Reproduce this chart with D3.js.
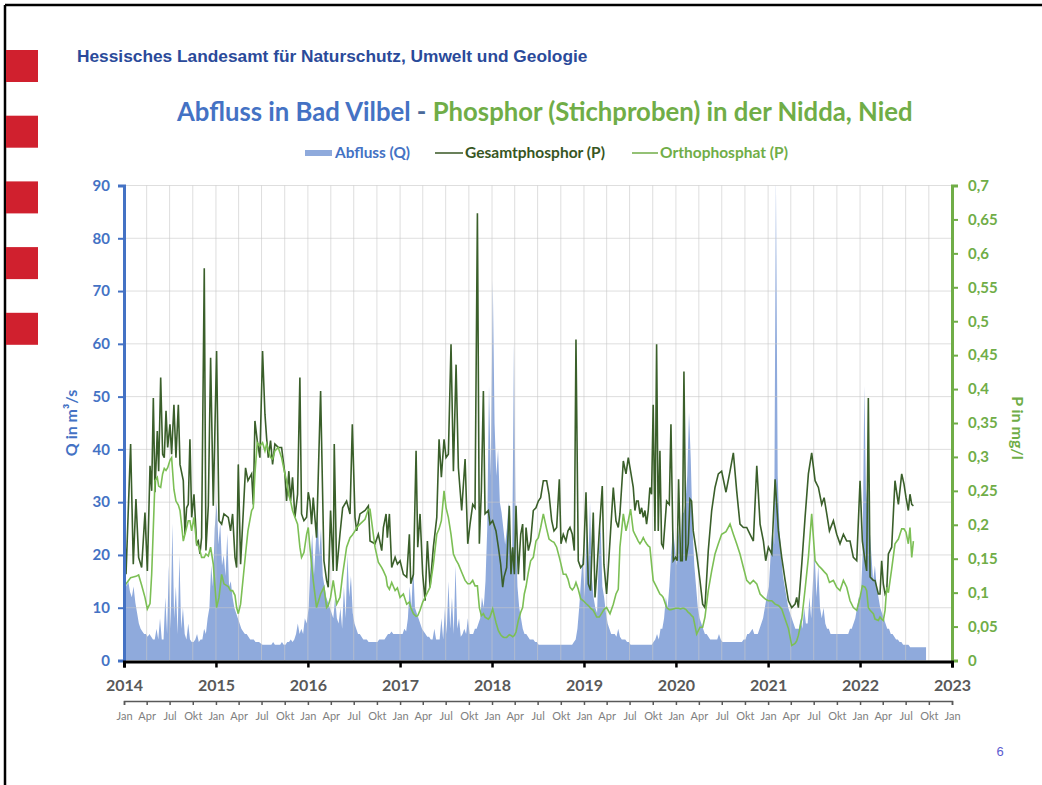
<!DOCTYPE html>
<html><head><meta charset="utf-8">
<script src="https://cdn.jsdelivr.net/npm/d3@7"></script>
<style>body{margin:0;background:#fff;} svg{display:block;}</style>
</head><body>
<svg id="c" width="1042" height="785"></svg>
<script>
// ---------- DATA ----------
// Abfluss Q (m³/s), weekly readings per year (week i = Jan 4 + 7*i)
const q2014 = [16,14,15,13, 12,14,11,9, 7,6,5.5,5,5, 4.5,5,4.5,4, 4,6,4,8,4, 4,12,5,18, 6,26,8,14, 5,20,6,10,5, 4,7,4,3.5, 3.5,4,5,3.5,4, 4,6,5,8, 10,18,14,25];
const q2015 = [30,22,26,18, 20,16,24,14, 15,12,10,9,8, 7,6,5.5,5, 5,4.5,4,4,4, 3.5,3.5,3.5,3.2, 3,3,3,3, 3,3,3.5,3,3, 3,3,3.5,3, 3,3.5,3.5,4,3.5, 4,5,7,5, 6,5,8,7];
const q2016 = [10,18,24,16, 22,28,20,25, 16,14,12,11,10, 9,8,12,8, 7,10,6,14,8, 20,12,16,9, 7,6,5,5, 4.5,4,4,4,3.5, 3.5,3.5,3.5,3.5, 3.5,4,4,4,4, 4.5,5,5,5.5, 5,5,5,5];
const q2017 = [5,5,6,5.5, 8,14,10,18, 10,9,8,7,6, 5.5,5,4.5,4.5, 4,4,6,4,4, 4,8,4,10, 5,15,6,12, 5,18,6,8,4.5, 5,6,5,8, 5,5,5,6,6, 7,8,12,10, 15,25,52,35];
const q2018 = [72,45,35,40, 30,28,25,22, 25,30,22,20,60, 25,14,10,8, 6,5,5,4.5,4, 4,4,3.5,3.5, 3,3,3,3, 3,3,3,3,3, 3,3,3,3, 3,3,3,3,3, 3,3,3.5,4, 6,10,15,20];
const q2019 = [12,25,18,30, 16,12,10,9, 20,26,14,12,9, 7,6,5,5, 5,4.5,6,4.5,4, 4,4,3.5,3.5, 3,3,3,3, 3,3,3,3,3, 3,3,3,3, 3.5,4,5,4,6, 6,8,12,10, 14,20,25,22];
const q2020 = [18,25,20,28, 28,30,35,47, 38,25,18,14,10, 8,7,6,5, 5,4.5,4,4,4, 4,4,5,4, 3.5,3.5,3.5,3.5, 3.5,3.5,3.5,3.5,3.5, 3.5,3.5,3.5,4, 4,5,5,5.5,6, 5,5,5,6, 7,8,10,12];
const q2021 = [14,20,25,22, 92,35,25,20, 16,14,12,10,9, 8,7,6,6, 6,8,6,10,7, 7,12,8,15, 20,12,18,10, 8,10,7,6,6, 5,5,5,5, 5,5,5,5,5, 5,5,6,6, 7,8,10,12];
const q2022 = [12,20,52,30, 35,25,20,15, 18,14,12,10,9, 8,7,6,6, 5,5,4.5,4,4, 3.5,3.5,3,3, 3,3,2.5,2.5, 2.5,2.5,2.5,2.5,2.5, 2.5,2.5,2.5];
const qYears = [2014,2015,2016,2017,2018,2019,2020,2021,2022];
const qSeries = [q2014,q2015,q2016,q2017,q2018,q2019,q2020,q2021,q2022];

// Phosphor samples (decimal years), Gesamtphosphor and Orthophosphat (mg/l)
const pDates = [2014.000,2014.022,2014.072,2014.101,2014.130,2014.159,2014.192,2014.228,2014.254,2014.283,2014.301,2014.319,2014.337,2014.362,2014.377,2014.399,2014.420,2014.438,2014.457,2014.475,2014.500,2014.518,2014.543,2014.565,2014.591,2014.609,2014.645,2014.663,2014.681,2014.699,2014.717,2014.736,2014.761,2014.790,2014.808,2014.826,2014.844,2014.873,2014.891,2014.917,2014.942,2014.971,2015.007,2015.033,2015.062,2015.087,2015.134,2015.159,2015.181,2015.207,2015.225,2015.243,2015.268,2015.322,2015.348,2015.388,2015.406,2015.424,2015.449,2015.478,2015.507,2015.533,2015.551,2015.569,2015.594,2015.616,2015.641,2015.677,2015.714,2015.750,2015.768,2015.793,2015.812,2015.833,2015.859,2015.888,2015.913,2015.931,2015.957,2015.986,2016.004,2016.022,2016.040,2016.058,2016.094,2016.138,2016.174,2016.203,2016.221,2016.246,2016.275,2016.286,2016.312,2016.348,2016.377,2016.420,2016.457,2016.482,2016.511,2016.529,2016.565,2016.620,2016.656,
2016.674,2016.728,2016.764,2016.801,2016.819,2016.848,2016.862,2016.884,2016.909,2016.946,2016.971,2017.000,2017.036,2017.072,2017.101,2017.116,2017.145,2017.174,2017.192,2017.217,2017.246,2017.272,2017.297,2017.326,2017.362,2017.399,2017.424,2017.449,2017.478,2017.500,2017.525,2017.554,2017.580,2017.609,2017.634,2017.670,2017.707,2017.736,2017.761,2017.790,2017.815,2017.841,2017.862,2017.884,2017.906,2017.924,2017.960,2017.978,2018.007,2018.043,2018.069,2018.094,2018.116,2018.130,2018.159,2018.188,2018.206,2018.225,2018.243,2018.261,2018.286,2018.312,2018.333,2018.351,2018.370,2018.395,2018.420,2018.449,2018.478,2018.504,2018.529,2018.558,2018.594,2018.620,2018.649,2018.674,2018.703,2018.732,2018.750,2018.775,2018.804,2018.826,2018.848,2018.873,2018.895,2018.913,2018.938,2018.964,2018.993,2019.022,2019.047,2019.072,2019.101,2019.120,2019.138,2019.167,2019.199,2019.217,2019.246,2019.283,2019.319,2019.348,2019.373,
2019.391,2019.428,2019.457,2019.482,2019.507,2019.536,2019.554,2019.572,2019.590,2019.609,2019.627,2019.645,2019.663,2019.681,2019.699,2019.717,2019.735,2019.753,2019.772,2019.790,2019.808,2019.826,2019.844,2019.862,2019.899,2019.928,2019.946,2019.971,2019.996,2020.014,2020.029,2020.051,2020.069,2020.087,2020.109,2020.134,2020.152,2020.170,2020.188,2020.225,2020.261,2020.290,2020.315,2020.351,2020.388,2020.424,2020.460,2020.496,2020.543,2020.587,2020.623,2020.659,2020.695,2020.732,2020.768,2020.804,2020.840,2020.877,2020.913,2020.949,2020.974,2021.003,2021.040,2021.076,2021.112,2021.148,2021.185,2021.221,2021.257,2021.293,2021.311,2021.329,2021.366,2021.402,2021.438,2021.474,2021.511,2021.547,2021.583,2021.609,2021.638,2021.667,2021.710,2021.746,2021.782,2021.819,2021.855,2021.891,2021.927,2021.964,2022.000,2022.025,2022.054,2022.072,2022.090,2022.109,2022.145,2022.163,2022.199,2022.217,2022.235,2022.253,2022.272,2022.290,2022.308,2022.344,2022.380,2022.417,2022.453,2022.478,2022.500,2022.525,2022.543,2022.562,2022.580];

const totalP = [0.228,0.127,0.319,0.142,0.238,0.152,0.137,0.218,0.132,0.287,0.25,0.387,0.248,0.338,0.279,0.417,0.304,0.299,0.368,0.314,0.348,0.304,0.377,0.299,0.377,0.289,0.265,0.186,0.225,0.230,0.326,0.211,0.245,0.172,0.176,0.157,0.181,0.578,0.162,0.228,0.446,0.228,0.456,0.206,0.201,0.216,0.211,0.191,0.216,0.152,0.137,0.289,0.142,0.284,0.265,0.275,0.230,0.353,0.324,0.299,0.456,0.363,0.328,0.299,0.324,0.289,0.319,0.314,0.314,0.275,0.235,0.279,0.235,0.270,0.211,0.245,0.417,0.216,0.206,0.211,0.248,0.235,0.201,0.240,0.181,0.397,0.147,0.118,0.108,0.221,0.132,0.319,0.132,0.186,0.225,0.235,0.216,0.348,0.211,0.191,0.216,0.221,0.228,
0.176,0.172,0.186,0.162,0.196,0.216,0.181,0.216,0.137,0.152,0.142,0.147,0.127,0.123,0.186,0.113,0.127,0.309,0.167,0.216,0.127,0.088,0.176,0.108,0.167,0.211,0.326,0.270,0.326,0.299,0.304,0.466,0.279,0.436,0.284,0.221,0.297,0.172,0.201,0.230,0.225,0.659,0.172,0.250,0.397,0.216,0.221,0.201,0.206,0.191,0.167,0.142,0.108,0.123,0.137,0.228,0.127,0.167,0.127,0.228,0.127,0.186,0.201,0.118,0.196,0.162,0.176,0.221,0.225,0.235,0.240,0.265,0.265,0.245,0.206,0.191,0.196,0.267,0.172,0.186,0.176,0.191,0.196,0.186,0.162,0.473,0.147,0.137,0.142,0.248,0.113,0.103,0.218,0.093,0.127,0.191,0.257,0.142,0.098,0.176,0.255,0.206,0.196,
0.216,0.294,0.275,0.299,0.279,0.255,0.221,0.235,0.235,0.216,0.225,0.211,0.221,0.201,0.221,0.255,0.245,0.377,0.191,0.466,0.191,0.309,0.172,0.167,0.235,0.230,0.348,0.147,0.152,0.147,0.267,0.147,0.147,0.426,0.147,0.172,0.238,0.235,0.191,0.157,0.118,0.083,0.078,0.162,0.221,0.255,0.275,0.279,0.248,0.279,0.306,0.250,0.201,0.196,0.196,0.186,0.176,0.287,0.201,0.176,0.147,0.167,0.157,0.267,0.191,0.152,0.118,0.088,0.078,0.083,0.093,0.078,0.142,0.211,0.275,0.306,0.265,0.255,0.230,0.240,0.216,0.191,0.206,0.186,0.172,0.186,0.176,0.176,0.152,0.147,0.265,0.176,0.147,0.132,0.387,0.123,0.118,0.118,0.098,0.098,0.147,0.113,0.098,0.103,0.157,0.167,0.265,0.230,0.275,0.260,0.240,0.221,0.245,0.230,0.228];

const orthoP = [0.105,0.113,0.122,0.123,0.124,0.126,0.111,0.093,0.076,0.084,0.127,0.196,0.265,0.27,0.257,0.255,0.275,0.283,0.28,0.284,0.295,0.299,0.252,0.235,0.229,0.221,0.176,0.186,0.196,0.206,0.206,0.191,0.211,0.172,0.169,0.162,0.152,0.152,0.157,0.154,0.167,0.142,0.078,0.093,0.127,0.113,0.109,0.103,0.103,0.096,0.078,0.069,0.083,0.157,0.191,0.221,0.225,0.275,0.321,0.316,0.321,0.309,0.319,0.311,0.299,0.297,0.309,0.314,0.299,0.275,0.265,0.243,0.235,0.221,0.211,0.201,0.167,0.152,0.159,0.186,0.196,0.167,0.142,0.118,0.078,0.098,0.108,0.078,0.081,0.093,0.118,0.108,0.083,0.093,0.127,0.167,0.181,0.185,0.191,0.196,0.201,0.208,0.223,
0.223,0.167,0.145,0.137,0.132,0.123,0.110,0.105,0.115,0.103,0.107,0.093,0.098,0.083,0.086,0.078,0.069,0.065,0.066,0.074,0.086,0.093,0.100,0.108,0.142,0.186,0.194,0.206,0.250,0.225,0.211,0.186,0.157,0.148,0.142,0.130,0.118,0.113,0.113,0.118,0.110,0.110,0.078,0.066,0.069,0.064,0.061,0.064,0.076,0.056,0.044,0.038,0.035,0.034,0.034,0.038,0.037,0.035,0.037,0.042,0.059,0.071,0.078,0.098,0.109,0.130,0.147,0.152,0.176,0.181,0.196,0.216,0.194,0.179,0.176,0.174,0.167,0.152,0.142,0.127,0.127,0.120,0.108,0.104,0.108,0.115,0.105,0.091,0.088,0.084,0.081,0.077,0.074,0.069,0.064,0.064,0.071,0.075,0.078,0.069,0.083,0.098,0.105,
0.167,0.216,0.191,0.206,0.223,0.191,0.186,0.181,0.176,0.172,0.176,0.181,0.176,0.172,0.169,0.167,0.142,0.118,0.113,0.108,0.103,0.098,0.096,0.093,0.078,0.075,0.075,0.076,0.077,0.077,0.077,0.076,0.077,0.077,0.075,0.071,0.069,0.066,0.064,0.039,0.049,0.049,0.064,0.103,0.132,0.157,0.172,0.186,0.190,0.201,0.186,0.172,0.157,0.137,0.118,0.113,0.118,0.113,0.098,0.093,0.090,0.088,0.088,0.083,0.081,0.076,0.061,0.047,0.022,0.025,0.029,0.037,0.061,0.105,0.152,0.216,0.147,0.140,0.135,0.131,0.127,0.115,0.118,0.108,0.103,0.118,0.108,0.088,0.078,0.074,0.093,0.110,0.108,0.103,0.078,0.074,0.069,0.061,0.059,0.064,0.061,0.059,0.074,0.108,0.100,0.135,0.172,0.179,0.194,0.194,0.189,0.172,0.196,0.152,0.176];

const yearTicks = [2014,2015,2016,2017,2018,2019,2020,2021,2022,2023];
const monthLabels = ["Jan","Apr","Jul","Okt"];
const leftTicks = [0,10,20,30,40,50,60,70,80,90];
const rightTicks = [0,0.05,0.1,0.15,0.2,0.25,0.3,0.35,0.4,0.45,0.5,0.55,0.6,0.65,0.7];
const redSquareRows = [0,1,2,3,4];

// ---------- helpers ----------
function toDate(y){ const yr=Math.floor(y); const s=new Date(yr,0,1), e=new Date(yr+1,0,1); return new Date(+s + (y-yr)*(e-s)); }
function fitText(sel, width){ const w=sel.node().getComputedTextLength(); const fs=parseFloat(sel.attr("font-size")); sel.attr("font-size", fs*width/w); }

const svg = d3.select("#c");
const L=124, R=952, T=185.5, B=660.5;
const x = d3.scaleTime().domain([new Date(2014,0,1), new Date(2023,0,1)]).range([L,R]);
const yQ = d3.scaleLinear().domain([0,90]).range([B,T]);
const yP = d3.scaleLinear().domain([0,0.7]).range([B,T]);

// slide frame + red marks
svg.append("line").attr("x1",5).attr("y1",5).attr("x2",1042).attr("y2",5).attr("stroke","#000").attr("stroke-width",2.5);
svg.append("line").attr("x1",5).attr("y1",5).attr("x2",5).attr("y2",785).attr("stroke","#000").attr("stroke-width",2.5);
svg.selectAll("rect.red").data(redSquareRows).join("rect").attr("class","red")
  .attr("x",6).attr("width",32).attr("y",i=>50+i*65.7).attr("height",32).attr("fill","#D0202E");

// header
const hdr = svg.append("text").attr("x",77).attr("y",62).attr("font-family","Liberation Sans, Arial").attr("font-weight","bold").attr("font-size",15).attr("fill","#2A4A9A").text("Hessisches Landesamt für Naturschutz, Umwelt und Geologie");
fitText(hdr, 511);

const title = svg.append("text").attr("x",177).attr("y",121).attr("font-family","Lato").attr("font-weight","bold").attr("font-size",22);
title.append("tspan").attr("fill","#4472C4").text("Abfluss in Bad Vilbel ");
title.append("tspan").attr("fill","#4A6A9A").text("- ");
title.append("tspan").attr("fill","#70AD47").text("Phosphor (Stichproben) in der Nidda, Nied");
fitText(title, 736);

// legend
const lg = svg.append("g").attr("font-family","Lato").attr("font-weight","bold");
lg.append("rect").attr("x",305).attr("y",150).attr("width",27).attr("height",6).attr("fill","#8FAADC");
const t1 = lg.append("text").attr("x",335).attr("y",158).attr("font-size",14).attr("fill","#4472C4").text("Abfluss (Q)");
lg.append("line").attr("x1",435).attr("x2",463).attr("y1",153).attr("y2",153).attr("stroke","#375623").attr("stroke-width",1.5);
const t2 = lg.append("text").attr("x",465).attr("y",158).attr("font-size",14).attr("fill","#375623").text("Gesamtphosphor (P)");
lg.append("line").attr("x1",632).attr("x2",658).attr("y1",153).attr("y2",153).attr("stroke","#70AD47").attr("stroke-width",1.5);
const t3 = lg.append("text").attr("x",660).attr("y",158).attr("font-size",14).attr("fill","#70AD47").text("Orthophosphat (P)");
fitText(t1,75); fitText(t2,140); fitText(t3,128);

// clip
svg.append("clipPath").attr("id","pc").append("rect").attr("x",L).attr("y",T).attr("width",R-L).attr("height",B-T);

// Q area
const qData = [];
qSeries.forEach((arr,k)=>arr.forEach((v,i)=>qData.push({t:new Date(qYears[k],0,4+7*i), v})));
svg.append("path").datum(qData).attr("clip-path","url(#pc)")
  .attr("d", d3.area().x(d=>x(d.t)).y0(B).y1(d=>yQ(d.v)))
  .attr("fill","#8FAADC");

// gridlines
const grid = svg.append("g").attr("stroke","#C8C8C8").attr("stroke-opacity",0.6).attr("stroke-width",1);
grid.selectAll("line.h").data(leftTicks.slice(1)).join("line").attr("x1",L).attr("x2",R).attr("y1",d=>yQ(d)).attr("y2",d=>yQ(d));
grid.selectAll("line.v").data(x.ticks(d3.timeMonth.every(3)).slice(1,-1)).join("line").attr("y1",T).attr("y2",B).attr("x1",d=>x(d)).attr("x2",d=>x(d));

// P lines
const pData = pDates.map((t,i)=>({t:toDate(t), tot:totalP[i], ort:orthoP[i]}));
svg.append("path").datum(pData).attr("fill","none").attr("stroke","#3A5F2A").attr("stroke-width",1.6)
  .attr("d", d3.line().x(d=>x(d.t)).y(d=>yP(d.tot)));
svg.append("path").datum(pData).attr("fill","none").attr("stroke","#7CBF55").attr("stroke-width",1.6)
  .attr("d", d3.line().x(d=>x(d.t)).y(d=>yP(d.ort)));

// left axis
const la = svg.append("g").attr("transform",`translate(${L},0)`).call(d3.axisLeft(yQ).tickValues(leftTicks).tickSize(6).tickPadding(8));
la.select(".domain").attr("stroke","#4472C4").attr("stroke-width",3);
la.selectAll(".tick line").attr("stroke","#4472C4").attr("stroke-width",2);
la.selectAll(".tick text").attr("fill","#4472C4").attr("font-family","Lato").attr("font-weight","bold").attr("font-size",15);

// right axis
const ra = svg.append("g").attr("transform",`translate(${R},0)`).call(d3.axisRight(yP).tickValues(rightTicks).tickSize(6).tickPadding(10).tickFormat(d=>d3.format(".2~f")(d).replace(".",",")));
ra.select(".domain").attr("stroke","#70AD47").attr("stroke-width",3);
ra.selectAll(".tick line").attr("stroke","#70AD47").attr("stroke-width",2);
ra.selectAll(".tick text").attr("fill","#70AD47").attr("font-family","Lato").attr("font-weight","bold").attr("font-size",15);

// bottom axis (years)
const yearDates = yearTicks.map(y=>new Date(y,0,1));
const ba = svg.append("g").attr("transform",`translate(0,${B+1})`).call(d3.axisBottom(x).tickValues(yearDates).tickSize(6).tickPadding(12).tickFormat(d3.timeFormat("%Y")));
ba.select(".domain").attr("stroke","#000").attr("stroke-width",3);
ba.selectAll(".tick line").attr("stroke","#000").attr("stroke-width",2.5);
ba.selectAll(".tick text").attr("fill","#595959").attr("font-family","Lato").attr("font-weight","bold").attr("font-size",16);

// month axis
const ma = svg.append("g").attr("transform","translate(0,701)").call(d3.axisBottom(x).ticks(d3.timeMonth.every(3)).tickSize(4).tickPadding(7).tickFormat(d=>monthLabels[d.getMonth()/3]));
ma.select(".domain").attr("stroke","#595959").attr("stroke-width",1.5);
ma.selectAll(".tick line").attr("stroke","#595959").attr("stroke-width",1.5);
ma.selectAll(".tick text").attr("fill","#808080").attr("font-family","Lato").attr("font-size",11);

// axis titles
svg.append("text").attr("transform","translate(77,423) rotate(-90)").attr("text-anchor","middle").attr("font-family","Lato").attr("font-weight","bold").attr("font-size",16).attr("fill","#4472C4").text("Q in m³/s");
svg.append("text").attr("transform","translate(1012,428) rotate(90)").attr("text-anchor","middle").attr("font-family","Lato").attr("font-weight","bold").attr("font-size",16).attr("fill","#70AD47").text("P in mg/l");

// page number
svg.append("text").attr("x",1000).attr("y",756).attr("text-anchor","middle").attr("font-family","Liberation Sans, Arial").attr("font-size",13).attr("fill","#5B5BD0").text("6");
</script>
</body></html>
